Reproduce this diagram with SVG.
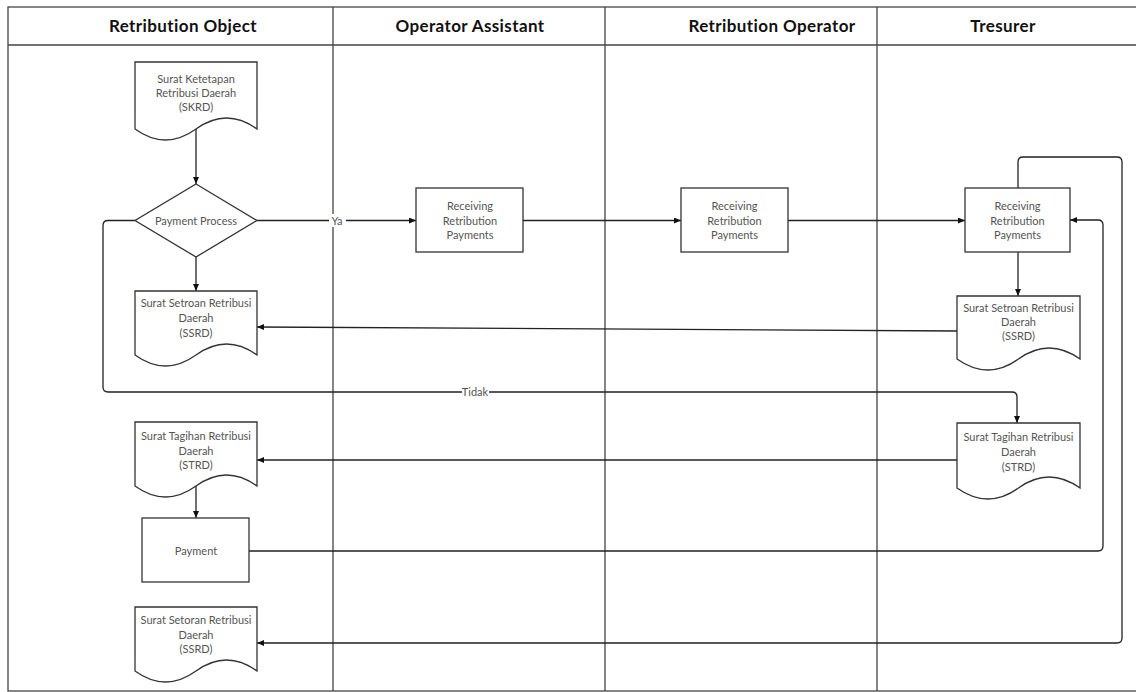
<svg xmlns="http://www.w3.org/2000/svg" width="1136" height="692" viewBox="0 0 1136 692">
<style>
.lane{fill:none;stroke:#444;stroke-width:1.3}
.hdr{font-family:Lato,"Liberation Sans",sans-serif;font-weight:bold;font-size:17px;letter-spacing:0.4px;fill:#111;text-anchor:middle}
.shape{fill:#fff;stroke:#333;stroke-width:1.3}
.t{font-family:Lato,"Liberation Sans",sans-serif;font-size:11px;fill:#555;text-anchor:middle}
.c{fill:none;stroke:#222;stroke-width:1.3}
.lbl{font-family:Lato,"Liberation Sans",sans-serif;font-size:11px;fill:#555;text-anchor:middle}
</style>
<defs>
<marker id="ah" markerWidth="8" markerHeight="8" refX="7" refY="3" orient="auto" markerUnits="userSpaceOnUse">
<path d="M0,0 L7,3 L0,6 z" fill="#111"/>
</marker>
</defs>
<rect width="1136" height="692" fill="#fff"/>
<g id="lanes">
<rect class="lane" x="8" y="7" width="1140" height="684"/>
<line class="lane" x1="8" y1="45" x2="1136" y2="45"/>
<line class="lane" x1="333" y1="7" x2="333" y2="691"/>
<line class="lane" x1="605" y1="7" x2="605" y2="691"/>
<line class="lane" x1="877" y1="7" x2="877" y2="691"/>
<text class="hdr" x="183" y="32">Retribution Object</text>
<text class="hdr" x="470" y="32">Operator Assistant</text>
<text class="hdr" x="772" y="32">Retribution Operator</text>
<text class="hdr" x="1003" y="32">Tresurer</text>
</g>
<g id="connectors">
<path class="c" d="M196,129 V184" marker-end="url(#ah)"/>
<path class="c" d="M196,257 V291" marker-end="url(#ah)"/>
<path class="c" d="M257,220.5 H416" marker-end="url(#ah)"/>
<path class="c" d="M523,220.5 H681" marker-end="url(#ah)"/>
<path class="c" d="M788,220.5 H965" marker-end="url(#ah)"/>
<path class="c" d="M1018,252 V296" marker-end="url(#ah)"/>
<path class="c" d="M957,331 L257,327" marker-end="url(#ah)"/>
<path class="c" d="M135,220.5 H108 Q103,220.5 103,225.5 V387 Q103,392 108,392 H1012 Q1017,392 1017,397 V423" marker-end="url(#ah)"/>
<path class="c" d="M957,460 H257" marker-end="url(#ah)"/>
<path class="c" d="M196,486 V518" marker-end="url(#ah)"/>
<path class="c" d="M249,551 H1098 Q1103,551 1103,546 V225 Q1103,220 1098,220 H1070" marker-end="url(#ah)"/>
<path class="c" d="M1018,188 V162 Q1018,157 1023,157 H1117 Q1122,157 1122,162 V638 Q1122,643 1117,643 H257" marker-end="url(#ah)"/>
<rect x="329" y="214" width="17" height="13" fill="#fff"/>
<text class="lbl" x="337" y="224.5">Ya</text>
<rect x="462" y="386" width="27" height="13" fill="#fff"/>
<text class="lbl" x="475" y="396">Tidak</text>
</g>
<g id="skrd">
<path class="shape" d="M135,62 H257 V129 Q226.5,107 196,129 T135,129 Z"/>
<text class="t" x="196" y="83">Surat Ketetapan</text>
<text class="t" x="196" y="97">Retribusi Daerah</text>
<text class="t" x="196" y="110.5">(SKRD)</text>
</g>
<g id="decision">
<path class="shape" d="M196,184 L257,220.5 L196,257 L135,220.5 Z"/>
<text class="t" x="196" y="224.5">Payment Process</text>
</g>
<g id="ssrd1">
<path class="shape" d="M135,291 H257 V355 Q226.5,333 196,355 T135,355 Z"/>
<text class="t" x="196" y="307">Surat Setroan Retribusi</text>
<text class="t" x="196" y="322">Daerah</text>
<text class="t" x="196" y="337">(SSRD)</text>
</g>
<g id="strd1">
<path class="shape" d="M135,422 H257 V486 Q226.5,464 196,486 T135,486 Z"/>
<text class="t" x="196" y="440">Surat Tagihan Retribusi</text>
<text class="t" x="196" y="455">Daerah</text>
<text class="t" x="196" y="469">(STRD)</text>
</g>
<g id="payment">
<rect class="shape" x="142" y="518" width="107" height="64"/>
<text class="t" x="196" y="555">Payment</text>
</g>
<g id="ssrd2">
<path class="shape" d="M135,607 H257 V671 Q226.5,649 196,671 T135,671 Z"/>
<text class="t" x="196" y="624">Surat Setoran Retribusi</text>
<text class="t" x="196" y="639">Daerah</text>
<text class="t" x="196" y="653">(SSRD)</text>
</g>
<g id="recv1">
<rect class="shape" x="416" y="188" width="107" height="64"/>
<text class="t" x="470" y="210">Receiving</text>
<text class="t" x="470" y="225">Retribution</text>
<text class="t" x="470" y="239">Payments</text>
</g>
<g id="recv2">
<rect class="shape" x="681" y="188" width="107" height="64"/>
<text class="t" x="734.5" y="210">Receiving</text>
<text class="t" x="734.5" y="225">Retribution</text>
<text class="t" x="734.5" y="239">Payments</text>
</g>
<g id="recv3">
<rect class="shape" x="965" y="188" width="105" height="64"/>
<text class="t" x="1017.5" y="210">Receiving</text>
<text class="t" x="1017.5" y="225">Retribution</text>
<text class="t" x="1017.5" y="239">Payments</text>
</g>
<g id="ssrd3">
<path class="shape" d="M957,296 H1080 V359 Q1049,337 1018.5,359 T957,359 Z"/>
<text class="t" x="1018.5" y="312">Surat Setroan Retribusi</text>
<text class="t" x="1018.5" y="326">Daerah</text>
<text class="t" x="1018.5" y="340">(SSRD)</text>
</g>
<g id="strd2">
<path class="shape" d="M957,423 H1080 V488 Q1049,466 1018.5,488 T957,488 Z"/>
<text class="t" x="1018.5" y="441">Surat Tagihan Retribusi</text>
<text class="t" x="1018.5" y="456">Daerah</text>
<text class="t" x="1018.5" y="471">(STRD)</text>
</g>
</svg>
